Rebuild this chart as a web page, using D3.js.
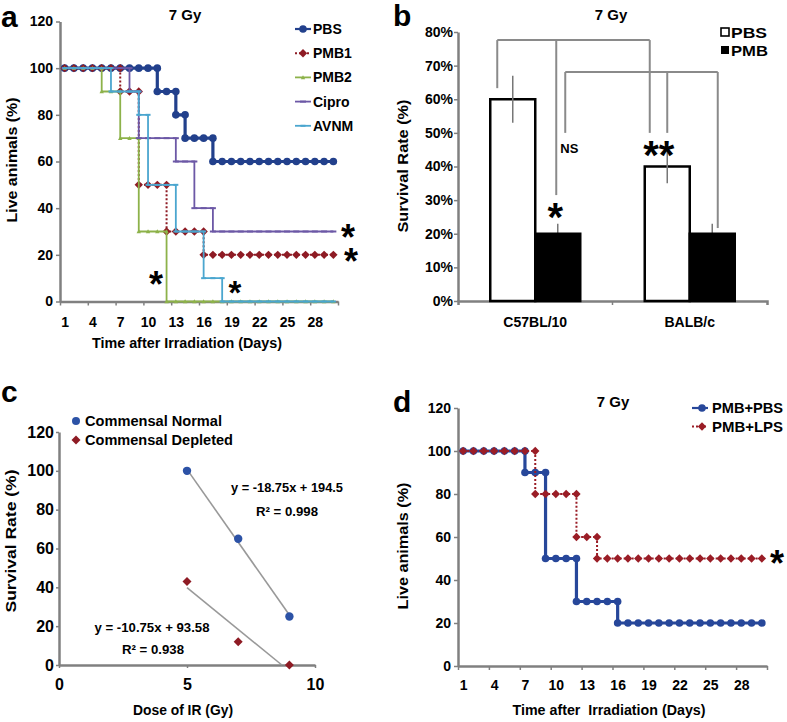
<!DOCTYPE html>
<html><head><meta charset="utf-8">
<script src="https://cdn.jsdelivr.net/npm/d3@7"></script>
<style>
body{margin:0;background:#fff}
svg{display:block}
text{font-family:"Liberation Sans",Arial,sans-serif;font-weight:bold;fill:#000}
</style>
</head><body>
<svg id="chart" width="787" height="722"></svg>
<script>
// ---------------- DATA ----------------
// Panel a: survival (%) per day 1..30 (value after deaths on that day)
const daysA = [1,2,3,4,5,6,7,8,9,10,11,12,13,14,15,16,17,18,19,20,21,22,23,24,25,26,27,28,29,30];
const pbsA   = [100,100,100,100,100,100,100,100,100,100,90,90,80,70,70,70,60,60,60,60,60,60,60,60,60,60,60,60,60,60];
const pmb1A  = [100,100,100,100,100,100,90,90,50,50,50,30,30,30,30,20,20,20,20,20,20,20,20,20,20,20,20,20,20,20];
const pmb2A  = [100,100,100,100,90,90,70,70,30,30,30,0,0,0,0,0,0,0,0,0,0,0,0,0,0,0,0,0,0,0];
const ciproA = [100,100,100,100,100,100,100,90,70,70,70,70,60,60,40,40,30,30,30,30,30,30,30,30,30,30,30,30,30,30];
const avnmA  = [100,100,100,100,100,90,90,90,80,50,50,50,30,30,30,10,10,0,0,0,0,0,0,0,0,0,0,0,0,0];
const seriesNamesA = ["PBS","PMB1","PMB2","Cipro","AVNM"];
const xLabelsA = [1,4,7,10,13,16,19,22,25,28];
const yTicksA = [0,20,40,60,80,100,120];

// Panel b: survival rate
const strainsB = ["C57BL/10","BALB/c"];
const groupsB = ["PBS","PMB"];
const pbsRateB = [0.60,0.40];
const pbsErrB  = [0.07,0.05];
const pmbRateB = [0.20,0.20];
const pmbErrB  = [0.03,0.03];
const yTicksB = [0,0.1,0.2,0.3,0.4,0.5,0.6,0.7,0.8];

// Panel c: dose response
const doseC = [5,7,9];
const normalC = [100,65,25];
const depletedC = [43,12,0];
const fitNormalC = [-18.75,194.5];
const fitDepletedC = [-10.75,93.58];
const xTicksC = [0,5,10];
const yTicksC = [0,20,40,60,80,100,120];

// Panel d
const daysD = [1,2,3,4,5,6,7,8,9,10,11,12,13,14,15,16,17,18,19,20,21,22,23,24,25,26,27,28,29,30];
const pmbPbsD = [100,100,100,100,100,100,90,90,50,50,50,30,30,30,30,20,20,20,20,20,20,20,20,20,20,20,20,20,20,20];
const pmbLpsD = [100,100,100,100,100,100,100,80,80,80,80,60,60,50,50,50,50,50,50,50,50,50,50,50,50,50,50,50,50,50];
const seriesNamesD = ["PMB+PBS","PMB+LPS"];
const xLabelsD = [1,4,7,10,13,16,19,22,25,28];
const yTicksD = [0,20,40,60,80,100,120];

// ---------------- HELPERS ----------------
const svg = d3.select("#chart");
const AX = "#808080";
const C = {pbs:"#22408c", pmb1:"#8e1b24", pmb2:"#8db24a", cipro:"#6c58a6", avnm:"#4ba6cf",
           blueD:"#27479a", redD:"#9a1d26", blueC:"#2c52a6", redC:"#8e1b24"};

function stepPts(days, vals){
  const pts=[];
  vals.forEach((v,i)=>{ if(i>0 && v!==vals[i-1]) pts.push([days[i], vals[i-1]]); pts.push([days[i], v]); });
  return pts;
}
function markerD(type, s){
  if(type==="circle") return d3.symbol(d3.symbolCircle, Math.PI*s*s)();
  if(type==="diamond") return `M0,${-s}L${s},0L0,${s}L${-s},0Z`;
  if(type==="triangle") return `M0,${-s}L${s},${s*0.8}L${-s},${s*0.8}Z`;
  if(type==="dash") return `M${-s},-1H${s}V1H${-s}Z`;
  return "";
}
function drawSeries(g, x, y, days, vals, st){
  const pts = stepPts(days, vals);
  g.append("path").datum(pts)
    .attr("d", d3.line().x(d=>x(d[0])).y(d=>y(d[1])))
    .attr("fill","none").attr("stroke",st.color).attr("stroke-width",st.w)
    .attr("stroke-dasharray",st.dash||null);
  g.selectAll(null).data(pts).enter().append("path")
    .attr("transform",d=>`translate(${x(d[0])},${y(d[1])})`)
    .attr("d", markerD(st.marker, st.ms)).attr("fill",st.color);
}
function styleAxis(g, fs){
  g.select(".domain").attr("stroke",AX).attr("stroke-width",2.5);
  g.selectAll(".tick line").attr("stroke",AX).attr("stroke-width",1.5);
  g.selectAll(".tick text").attr("font-size",fs).attr("font-weight","bold")
    .attr("font-family","'Liberation Sans',Arial,sans-serif").attr("fill","#000");
}
function txt(g, s, x, y, fs, anchor, len){
  const t = g.append("text").attr("x",x).attr("y",y).attr("font-size",fs)
    .attr("text-anchor",anchor||"start").text(s);
  if(len) t.attr("textLength",len).attr("lengthAdjust","spacingAndGlyphs");
  return t;
}
function vtxt(g, s, x, y, fs, len){
  const t = g.append("text").attr("transform",`translate(${x},${y}) rotate(-90)`)
    .attr("font-size",fs).attr("text-anchor","middle").text(s);
  if(len) t.attr("textLength",len).attr("lengthAdjust","spacingAndGlyphs");
  return t;
}
function star(g, s, cx, cy, fs){
  return g.append("text").attr("x",cx).attr("y",cy + fs*0.55).attr("font-size",fs)
    .attr("text-anchor","middle").attr("font-family","'DejaVu Sans',sans-serif").text(s);
}

// ---------------- PANEL A ----------------
const ga = svg.append("g");
const xa = d3.scaleLinear().domain([0.5,30.5]).range([60,338]);
const ya = d3.scaleLinear().domain([0,120]).range([301.5,21.5]);
const stylesA = [
  {color:C.pbs, w:3.2, marker:"circle", ms:3.8},
  {color:C.pmb1, w:2, dash:"2,2", marker:"diamond", ms:4.2},
  {color:C.pmb2, w:1.8, marker:"triangle", ms:2.2},
  {color:C.cipro, w:1.8, marker:"dash", ms:3},
  {color:C.avnm, w:1.8, marker:"dash", ms:2.5}
];
const dataA = [pbsA, pmb1A, pmb2A, ciproA, avnmA];
{
  const gy = ga.append("g").attr("transform","translate(60,0)")
    .call(d3.axisLeft(ya).tickValues(yTicksA).tickSize(4).tickPadding(3).tickSizeOuter(0));
  styleAxis(gy,14);
  const gx = ga.append("g").attr("transform",`translate(0,${ya(0)})`)
    .call(d3.axisBottom(xa).tickValues(d3.range(0.5,31,3)).tickSize(4).tickFormat("").tickSizeOuter(0));
  styleAxis(gx,14);
  const gl = ga.append("g").attr("transform",`translate(0,${ya(0)})`)
    .call(d3.axisBottom(xa).tickValues(xLabelsA).tickSize(0).tickPadding(15.5));
  gl.select(".domain").remove();
  styleAxis(gl,14);
  dataA.forEach((v,i)=>drawSeries(ga, xa, ya, daysA, v, stylesA[i]));
  // legend
  seriesNamesA.forEach((n,i)=>{
    const yy = 29 + i*24.2, st = stylesA[i];
    ga.append("line").attr("x1",295).attr("x2",311).attr("y1",yy).attr("y2",yy)
      .attr("stroke",st.color).attr("stroke-width",Math.min(st.w,2.2)).attr("stroke-dasharray",st.dash||null);
    ga.append("path").attr("transform",`translate(303,${yy})`).attr("d",markerD(st.marker,st.ms)).attr("fill",st.color);
    txt(ga, n, 313, yy+5, 14);
  });
  txt(ga, "7 Gy", 185, 20, 15, "middle");
  txt(ga, "a", 1, 27, 30);
  vtxt(ga, "Live animals (%)", 17, 160, 14, 125);
  txt(ga, "Time after Irradiation (Days)", 187, 348, 14, "middle", 190);
  star(ga, "*", 156, 277, 36);
  star(ga, "*", 348, 230, 36);
  star(ga, "*", 351, 254, 36);
  star(ga, "*", 235, 286, 33);
}

// ---------------- PANEL B ----------------
const gb = svg.append("g");
const xb = d3.scaleBand().domain(strainsB).range([458,767]);
const xin = d3.scaleBand().domain(groupsB).range([0,90]);
const yb = d3.scaleLinear().domain([0,0.8]).range([301,32]);
{
  const off = (xb.bandwidth()-90)/2;
  const bx = (s,g)=> xb(s)+off+xin(g);
  const gy = gb.append("g").attr("transform","translate(458,0)")
    .call(d3.axisLeft(yb).tickValues(yTicksB).tickFormat(d3.format(".0%")).tickSize(4).tickPadding(1).tickSizeOuter(0));
  styleAxis(gy,14);
  const gx = gb.append("g").attr("transform",`translate(0,${yb(0)})`)
    .call(d3.axisBottom(xb).tickValues([]).tickSizeOuter(4));
  styleAxis(gx,14);
  gx.append("line").attr("x1",xb("BALB/c")).attr("x2",xb("BALB/c")).attr("y1",0).attr("y2",4).attr("stroke",AX).attr("stroke-width",1.5);
  const gl = gb.append("g").attr("transform",`translate(0,${yb(0)})`)
    .call(d3.axisBottom(xb).tickSize(0).tickPadding(16));
  gl.select(".domain").remove();
  styleAxis(gl,14);
  // PBS bars
  strainsB.forEach((s,i)=>{
    gb.append("rect").attr("x",bx(s,"PBS")).attr("y",yb(pbsRateB[i])).attr("width",xin.bandwidth())
      .attr("height",yb(0)-yb(pbsRateB[i])).attr("fill","#fff").attr("stroke","#000").attr("stroke-width",2.5);
  });
  // error bars
  strainsB.forEach((s,i)=>{
    const cx1 = bx(s,"PBS")+xin.bandwidth()/2, cx2 = bx(s,"PMB")+xin.bandwidth()/2;
    gb.append("line").attr("x1",cx1).attr("x2",cx1).attr("y1",yb(pbsRateB[i]-pbsErrB[i])).attr("y2",yb(pbsRateB[i]+pbsErrB[i]))
      .attr("stroke","#777").attr("stroke-width",1.5);
    gb.append("line").attr("x1",cx2).attr("x2",cx2).attr("y1",yb(pmbRateB[i])).attr("y2",yb(pmbRateB[i]+pmbErrB[i]))
      .attr("stroke","#777").attr("stroke-width",1.5);
  });
  strainsB.forEach((s,i)=>{
    gb.append("rect").attr("x",bx(s,"PMB")).attr("y",yb(pmbRateB[i])).attr("width",xin.bandwidth())
      .attr("height",yb(0)-yb(pmbRateB[i])).attr("fill","#000").attr("stroke","#000").attr("stroke-width",2.5);
  });
  // significance brackets
  const brackets = [
    {level:0.776, legs:[["C57BL/10","PBS",7,0.633],["C57BL/10","PMB",21,0.315],["BALB/c","PBS",5,0.50]]},
    {level:0.681, legs:[["C57BL/10","PMB",30,0.50],["BALB/c","PBS",22.5,0.50],["BALB/c","PMB",28,0.217]]}
  ];
  brackets.forEach(b=>{
    const xs = b.legs.map(l=>bx(l[0],l[1])+l[2]);
    gb.append("line").attr("x1",d3.min(xs)).attr("x2",d3.max(xs)).attr("y1",yb(b.level)).attr("y2",yb(b.level))
      .attr("stroke","#8a8a8a").attr("stroke-width",2);
    b.legs.forEach((l,j)=>{
      gb.append("line").attr("x1",xs[j]).attr("x2",xs[j]).attr("y1",yb(b.level)).attr("y2",yb(l[3]))
        .attr("stroke","#8a8a8a").attr("stroke-width",2);
    });
  });
  txt(gb, "NS", bx("C57BL/10","PMB")+25, yb(0.44), 13);
  star(gb, "*", bx("C57BL/10","PMB")+20, yb(0.274), 40);
  star(gb, "**", bx("BALB/c","PBS")+14, yb(0.458), 40);
  // legend
  gb.append("rect").attr("x",721).attr("y",28).attr("width",8).attr("height",8).attr("fill","#fff").attr("stroke","#000").attr("stroke-width",1.6);
  gb.append("rect").attr("x",721).attr("y",46).attr("width",8).attr("height",8).attr("fill","#000");
  txt(gb, groupsB[0], 731, 37.5, 14, "start", 36);
  txt(gb, groupsB[1], 731, 55.5, 14, "start", 37);
  txt(gb, "7 Gy", 611, 20, 15, "middle");
  txt(gb, "b", 393, 26, 30);
  vtxt(gb, "Survival Rate (%)", 408, 166, 14, 133);
}

// ---------------- PANEL C ----------------
const gc = svg.append("g");
const xc = d3.scaleLinear().domain([0,10]).range([59,315]);
const yc = d3.scaleLinear().domain([0,120]).range([665,432]);
{
  const gy = gc.append("g").attr("transform","translate(59,0)")
    .call(d3.axisLeft(yc).tickValues(yTicksC).tickSize(3).tickPadding(2).tickSizeOuter(0));
  styleAxis(gy,16);
  const gx = gc.append("g").attr("transform",`translate(0,${yc(0)})`)
    .call(d3.axisBottom(xc).tickValues(xTicksC).tickSize(3).tickPadding(11).tickSizeOuter(0));
  styleAxis(gx,16);
  [[fitNormalC, normalC],[fitDepletedC, depletedC]].forEach(([f])=>{
    const x0 = doseC[0], x1 = Math.min(doseC[doseC.length-1], -f[1]/f[0]);
    gc.append("line").attr("x1",xc(x0)).attr("y1",yc(f[0]*x0+f[1])).attr("x2",xc(x1)).attr("y2",yc(f[0]*x1+f[1]))
      .attr("stroke","#999").attr("stroke-width",1.6);
  });
  gc.selectAll(null).data(doseC).enter().append("path")
    .attr("transform",(d,i)=>`translate(${xc(d)},${yc(normalC[i])})`).attr("d",markerD("circle",4.2)).attr("fill",C.blueC);
  gc.selectAll(null).data(doseC).enter().append("path")
    .attr("transform",(d,i)=>`translate(${xc(d)},${yc(depletedC[i])})`).attr("d",markerD("diamond",4.5)).attr("fill",C.redC);
  gc.append("path").attr("transform","translate(76,421)").attr("d",markerD("circle",4)).attr("fill",C.blueC);
  gc.append("path").attr("transform","translate(76,440)").attr("d",markerD("diamond",4.5)).attr("fill",C.redC);
  txt(gc, "Commensal Normal", 85, 426, 14, "start", 137);
  txt(gc, "Commensal Depleted", 85, 445, 14, "start", 148);
  txt(gc, "y = -18.75x + 194.5", 287, 492, 12.5, "middle", 112);
  txt(gc, "R² = 0.998", 287, 516, 12.5, "middle", 62);
  txt(gc, "y = -10.75x + 93.58", 152, 632, 12.5, "middle", 115);
  txt(gc, "R² = 0.938", 153, 654, 12.5, "middle", 62);
  txt(gc, "c", 1, 402, 30);
  vtxt(gc, "Survival Rate (%)", 16, 541, 14.5, 143);
  txt(gc, "Dose of IR (Gy)", 183, 715, 14, "middle", 100);
}

// ---------------- PANEL D ----------------
const gd = svg.append("g");
const xd = d3.scaleLinear().domain([0.5,30.5]).range([458,767]);
const yd = d3.scaleLinear().domain([0,120]).range([666,408]);
const stylesD = [
  {color:C.blueD, w:3.2, marker:"circle", ms:3.8},
  {color:C.redD, w:2, dash:"2,2", marker:"diamond", ms:4.2}
];
{
  const gy = gd.append("g").attr("transform","translate(458,0)")
    .call(d3.axisLeft(yd).tickValues(yTicksD).tickSize(4).tickPadding(3).tickSizeOuter(0));
  styleAxis(gy,14);
  const gx = gd.append("g").attr("transform",`translate(0,${yd(0)})`)
    .call(d3.axisBottom(xd).tickValues(d3.range(0.5,31,3)).tickSize(4).tickFormat("").tickSizeOuter(0));
  styleAxis(gx,14);
  const gl = gd.append("g").attr("transform",`translate(0,${yd(0)})`)
    .call(d3.axisBottom(xd).tickValues(xLabelsD).tickSize(0).tickPadding(14));
  gl.select(".domain").remove();
  styleAxis(gl,14);
  drawSeries(gd, xd, yd, daysD, pmbPbsD, stylesD[0]);
  drawSeries(gd, xd, yd, daysD, pmbLpsD, stylesD[1]);
  seriesNamesD.forEach((n,i)=>{
    const yy = 408 + i*18.5, st = stylesD[i];
    gd.append("line").attr("x1",692).attr("x2",708).attr("y1",yy).attr("y2",yy)
      .attr("stroke",st.color).attr("stroke-width",2.2).attr("stroke-dasharray",st.dash||null);
    gd.append("path").attr("transform",`translate(702,${yy})`).attr("d",markerD(st.marker,st.ms)).attr("fill",st.color);
    txt(gd, n, 712, yy+5, 14, "start", 71);
  });
  txt(gd, "7 Gy", 613, 407, 15, "middle");
  txt(gd, "d", 393, 412, 30);
  vtxt(gd, "Live animals (%)", 408, 546, 14, 127);
  txt(gd, "Time after  Irradiation (Days)", 609, 715, 14, "middle", 193).style("white-space","pre");
  star(gd, "*", 777, 556, 36);
}
</script>
</body></html>
